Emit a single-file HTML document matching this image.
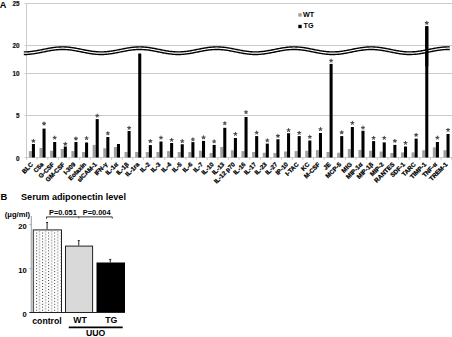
<!DOCTYPE html>
<html><head><meta charset="utf-8"><style>html,body{margin:0;padding:0;background:#fff;width:452px;height:337px;overflow:hidden}svg{display:block}</style></head>
<body><svg width="452" height="337" viewBox="0 0 452 337">
<rect width="452" height="337" fill="#fff"/>
<line x1="24.5" y1="3.5" x2="452" y2="3.5" stroke="#cbcbcb" stroke-width="1"/>
<line x1="24.5" y1="45.5" x2="452" y2="45.5" stroke="#cbcbcb" stroke-width="1"/>
<line x1="24.5" y1="73.5" x2="452" y2="73.5" stroke="#cbcbcb" stroke-width="1"/>
<line x1="24.5" y1="115.5" x2="452" y2="115.5" stroke="#cbcbcb" stroke-width="1"/>
<line x1="26.5" y1="3" x2="26.5" y2="158" stroke="#cbcbcb" stroke-width="1"/>
<line x1="24.5" y1="157.5" x2="452" y2="157.5" stroke="#cbcbcb" stroke-width="1"/>
<line x1="26.50" y1="157.5" x2="26.50" y2="160" stroke="#cbcbcb" stroke-width="1"/>
<line x1="37.13" y1="157.5" x2="37.13" y2="160" stroke="#cbcbcb" stroke-width="1"/>
<line x1="47.76" y1="157.5" x2="47.76" y2="160" stroke="#cbcbcb" stroke-width="1"/>
<line x1="58.39" y1="157.5" x2="58.39" y2="160" stroke="#cbcbcb" stroke-width="1"/>
<line x1="69.02" y1="157.5" x2="69.02" y2="160" stroke="#cbcbcb" stroke-width="1"/>
<line x1="79.66" y1="157.5" x2="79.66" y2="160" stroke="#cbcbcb" stroke-width="1"/>
<line x1="90.29" y1="157.5" x2="90.29" y2="160" stroke="#cbcbcb" stroke-width="1"/>
<line x1="100.92" y1="157.5" x2="100.92" y2="160" stroke="#cbcbcb" stroke-width="1"/>
<line x1="111.55" y1="157.5" x2="111.55" y2="160" stroke="#cbcbcb" stroke-width="1"/>
<line x1="122.18" y1="157.5" x2="122.18" y2="160" stroke="#cbcbcb" stroke-width="1"/>
<line x1="132.81" y1="157.5" x2="132.81" y2="160" stroke="#cbcbcb" stroke-width="1"/>
<line x1="143.44" y1="157.5" x2="143.44" y2="160" stroke="#cbcbcb" stroke-width="1"/>
<line x1="154.07" y1="157.5" x2="154.07" y2="160" stroke="#cbcbcb" stroke-width="1"/>
<line x1="164.70" y1="157.5" x2="164.70" y2="160" stroke="#cbcbcb" stroke-width="1"/>
<line x1="175.33" y1="157.5" x2="175.33" y2="160" stroke="#cbcbcb" stroke-width="1"/>
<line x1="185.97" y1="157.5" x2="185.97" y2="160" stroke="#cbcbcb" stroke-width="1"/>
<line x1="196.60" y1="157.5" x2="196.60" y2="160" stroke="#cbcbcb" stroke-width="1"/>
<line x1="207.23" y1="157.5" x2="207.23" y2="160" stroke="#cbcbcb" stroke-width="1"/>
<line x1="217.86" y1="157.5" x2="217.86" y2="160" stroke="#cbcbcb" stroke-width="1"/>
<line x1="228.49" y1="157.5" x2="228.49" y2="160" stroke="#cbcbcb" stroke-width="1"/>
<line x1="239.12" y1="157.5" x2="239.12" y2="160" stroke="#cbcbcb" stroke-width="1"/>
<line x1="249.75" y1="157.5" x2="249.75" y2="160" stroke="#cbcbcb" stroke-width="1"/>
<line x1="260.38" y1="157.5" x2="260.38" y2="160" stroke="#cbcbcb" stroke-width="1"/>
<line x1="271.01" y1="157.5" x2="271.01" y2="160" stroke="#cbcbcb" stroke-width="1"/>
<line x1="281.64" y1="157.5" x2="281.64" y2="160" stroke="#cbcbcb" stroke-width="1"/>
<line x1="292.27" y1="157.5" x2="292.27" y2="160" stroke="#cbcbcb" stroke-width="1"/>
<line x1="302.91" y1="157.5" x2="302.91" y2="160" stroke="#cbcbcb" stroke-width="1"/>
<line x1="313.54" y1="157.5" x2="313.54" y2="160" stroke="#cbcbcb" stroke-width="1"/>
<line x1="324.17" y1="157.5" x2="324.17" y2="160" stroke="#cbcbcb" stroke-width="1"/>
<line x1="334.80" y1="157.5" x2="334.80" y2="160" stroke="#cbcbcb" stroke-width="1"/>
<line x1="345.43" y1="157.5" x2="345.43" y2="160" stroke="#cbcbcb" stroke-width="1"/>
<line x1="356.06" y1="157.5" x2="356.06" y2="160" stroke="#cbcbcb" stroke-width="1"/>
<line x1="366.69" y1="157.5" x2="366.69" y2="160" stroke="#cbcbcb" stroke-width="1"/>
<line x1="377.32" y1="157.5" x2="377.32" y2="160" stroke="#cbcbcb" stroke-width="1"/>
<line x1="387.95" y1="157.5" x2="387.95" y2="160" stroke="#cbcbcb" stroke-width="1"/>
<line x1="398.59" y1="157.5" x2="398.59" y2="160" stroke="#cbcbcb" stroke-width="1"/>
<line x1="409.22" y1="157.5" x2="409.22" y2="160" stroke="#cbcbcb" stroke-width="1"/>
<line x1="419.85" y1="157.5" x2="419.85" y2="160" stroke="#cbcbcb" stroke-width="1"/>
<line x1="430.48" y1="157.5" x2="430.48" y2="160" stroke="#cbcbcb" stroke-width="1"/>
<line x1="441.11" y1="157.5" x2="441.11" y2="160" stroke="#cbcbcb" stroke-width="1"/>
<line x1="451.74" y1="157.5" x2="451.74" y2="160" stroke="#cbcbcb" stroke-width="1"/>
<text x="19.6" y="6.45" font-family="Liberation Sans, sans-serif" font-weight="bold" font-size="6.3" text-anchor="end" fill="#111" stroke="#111" stroke-width="0.2">25</text>
<text x="19.6" y="48.45" font-family="Liberation Sans, sans-serif" font-weight="bold" font-size="6.3" text-anchor="end" fill="#111" stroke="#111" stroke-width="0.2">20</text>
<text x="19.6" y="76.20" font-family="Liberation Sans, sans-serif" font-weight="bold" font-size="6.3" text-anchor="end" fill="#111" stroke="#111" stroke-width="0.2">10</text>
<text x="19.6" y="118.40" font-family="Liberation Sans, sans-serif" font-weight="bold" font-size="6.3" text-anchor="end" fill="#111" stroke="#111" stroke-width="0.2">5</text>
<text x="19.6" y="160.50" font-family="Liberation Sans, sans-serif" font-weight="bold" font-size="6.3" text-anchor="end" fill="#111" stroke="#111" stroke-width="0.2">0</text>
<text x="-0.3" y="7.6" font-family="Liberation Sans, sans-serif" font-weight="bold" font-size="9.2" fill="#000">A</text>
<rect x="28.85" y="151.1" width="3.05" height="6.40" fill="#a0a0a0"/>
<rect x="31.90" y="144" width="3.05" height="13.50" fill="#000"/>
<path d="M33.42,140.90L33.42,139.30M33.42,140.90L34.94,140.41M33.42,140.90L34.36,142.19M33.42,140.90L32.48,142.19M33.42,140.90L31.90,140.41" stroke="#4a4a4a" stroke-width="1.1" fill="none" stroke-linecap="round"/>
<rect x="39.48" y="148" width="3.05" height="9.50" fill="#a0a0a0"/>
<rect x="42.53" y="128.6" width="3.05" height="28.90" fill="#000"/>
<path d="M44.05,123.60L44.05,122.00M44.05,123.60L45.57,123.11M44.05,123.60L44.99,124.89M44.05,123.60L43.11,124.89M44.05,123.60L42.53,123.11" stroke="#4a4a4a" stroke-width="1.1" fill="none" stroke-linecap="round"/>
<rect x="50.11" y="150.75" width="3.05" height="6.75" fill="#a0a0a0"/>
<rect x="53.16" y="142" width="3.05" height="15.50" fill="#000"/>
<path d="M54.68,137.75L54.68,136.15M54.68,137.75L56.20,137.26M54.68,137.75L55.62,139.04M54.68,137.75L53.74,139.04M54.68,137.75L53.16,137.26" stroke="#4a4a4a" stroke-width="1.1" fill="none" stroke-linecap="round"/>
<rect x="60.74" y="149" width="3.05" height="8.50" fill="#a0a0a0"/>
<rect x="63.79" y="146.5" width="3.05" height="11.00" fill="#000"/>
<path d="M65.31,143.90L65.31,142.30M65.31,143.90L66.83,143.41M65.31,143.90L66.25,145.19M65.31,143.90L64.37,145.19M65.31,143.90L63.79,143.41" stroke="#4a4a4a" stroke-width="1.1" fill="none" stroke-linecap="round"/>
<rect x="71.37" y="151.1" width="3.05" height="6.40" fill="#a0a0a0"/>
<rect x="74.42" y="142" width="3.05" height="15.50" fill="#000"/>
<path d="M75.94,138.60L75.94,137.00M75.94,138.60L77.47,138.11M75.94,138.60L76.88,139.89M75.94,138.60L75.00,139.89M75.94,138.60L74.42,138.11" stroke="#4a4a4a" stroke-width="1.1" fill="none" stroke-linecap="round"/>
<rect x="82.00" y="152" width="3.05" height="5.50" fill="#a0a0a0"/>
<rect x="85.05" y="142.5" width="3.05" height="15.00" fill="#000"/>
<path d="M86.57,138.25L86.57,136.65M86.57,138.25L88.10,137.76M86.57,138.25L87.52,139.54M86.57,138.25L85.63,139.54M86.57,138.25L85.05,137.76" stroke="#4a4a4a" stroke-width="1.1" fill="none" stroke-linecap="round"/>
<rect x="92.64" y="144.9" width="3.05" height="12.60" fill="#a0a0a0"/>
<rect x="95.69" y="119.1" width="3.05" height="38.40" fill="#000"/>
<path d="M97.21,115.75L97.21,114.15M97.21,115.75L98.73,115.26M97.21,115.75L98.15,117.04M97.21,115.75L96.27,117.04M97.21,115.75L95.68,115.26" stroke="#4a4a4a" stroke-width="1.1" fill="none" stroke-linecap="round"/>
<rect x="103.27" y="148.25" width="3.05" height="9.25" fill="#a0a0a0"/>
<rect x="106.32" y="137" width="3.05" height="20.50" fill="#000"/>
<path d="M107.84,133.30L107.84,131.70M107.84,133.30L109.36,132.81M107.84,133.30L108.78,134.59M107.84,133.30L106.90,134.59M107.84,133.30L106.32,132.81" stroke="#4a4a4a" stroke-width="1.1" fill="none" stroke-linecap="round"/>
<rect x="113.90" y="147" width="3.05" height="10.50" fill="#a0a0a0"/>
<rect x="116.95" y="144" width="3.05" height="13.50" fill="#000"/>
<rect x="124.53" y="152" width="3.05" height="5.50" fill="#a0a0a0"/>
<rect x="127.58" y="131" width="3.05" height="26.50" fill="#000"/>
<path d="M129.10,128.00L129.10,126.40M129.10,128.00L130.62,127.51M129.10,128.00L130.04,129.29M129.10,128.00L128.16,129.29M129.10,128.00L127.58,127.51" stroke="#4a4a4a" stroke-width="1.1" fill="none" stroke-linecap="round"/>
<rect x="135.16" y="152" width="3.05" height="5.50" fill="#a0a0a0"/>
<rect x="138.21" y="53.5" width="3.05" height="104.00" fill="#000"/>
<rect x="145.79" y="152" width="3.05" height="5.50" fill="#a0a0a0"/>
<rect x="148.84" y="145.1" width="3.05" height="12.40" fill="#000"/>
<path d="M150.36,141.10L150.36,139.50M150.36,141.10L151.88,140.61M150.36,141.10L151.30,142.39M150.36,141.10L149.42,142.39M150.36,141.10L148.84,140.61" stroke="#4a4a4a" stroke-width="1.1" fill="none" stroke-linecap="round"/>
<rect x="156.42" y="152" width="3.05" height="5.50" fill="#a0a0a0"/>
<rect x="159.47" y="141.5" width="3.05" height="16.00" fill="#000"/>
<path d="M160.99,137.75L160.99,136.15M160.99,137.75L162.51,137.26M160.99,137.75L161.93,139.04M160.99,137.75L160.05,139.04M160.99,137.75L159.47,137.26" stroke="#4a4a4a" stroke-width="1.1" fill="none" stroke-linecap="round"/>
<rect x="167.05" y="151.1" width="3.05" height="6.40" fill="#a0a0a0"/>
<rect x="170.10" y="143" width="3.05" height="14.50" fill="#000"/>
<path d="M171.62,140.00L171.62,138.40M171.62,140.00L173.14,139.51M171.62,140.00L172.56,141.29M171.62,140.00L170.68,141.29M171.62,140.00L170.10,139.51" stroke="#4a4a4a" stroke-width="1.1" fill="none" stroke-linecap="round"/>
<rect x="177.68" y="152" width="3.05" height="5.50" fill="#a0a0a0"/>
<rect x="180.73" y="144.25" width="3.05" height="13.25" fill="#000"/>
<path d="M182.25,141.25L182.25,139.65M182.25,141.25L183.78,140.76M182.25,141.25L183.19,142.54M182.25,141.25L181.31,142.54M182.25,141.25L180.73,140.76" stroke="#4a4a4a" stroke-width="1.1" fill="none" stroke-linecap="round"/>
<rect x="188.31" y="152" width="3.05" height="5.50" fill="#a0a0a0"/>
<rect x="191.37" y="142.1" width="3.05" height="15.40" fill="#000"/>
<path d="M192.88,139.50L192.88,137.90M192.88,139.50L194.41,139.01M192.88,139.50L193.83,140.79M192.88,139.50L191.94,140.79M192.88,139.50L191.36,139.01" stroke="#4a4a4a" stroke-width="1.1" fill="none" stroke-linecap="round"/>
<rect x="198.95" y="150.75" width="3.05" height="6.75" fill="#a0a0a0"/>
<rect x="202.00" y="140.9" width="3.05" height="16.60" fill="#000"/>
<path d="M203.52,137.40L203.52,135.80M203.52,137.40L205.04,136.91M203.52,137.40L204.46,138.69M203.52,137.40L202.58,138.69M203.52,137.40L201.99,136.91" stroke="#4a4a4a" stroke-width="1.1" fill="none" stroke-linecap="round"/>
<rect x="209.58" y="153" width="3.05" height="4.50" fill="#a0a0a0"/>
<rect x="212.63" y="144.9" width="3.05" height="12.60" fill="#000"/>
<path d="M214.15,141.50L214.15,139.90M214.15,141.50L215.67,141.01M214.15,141.50L215.09,142.79M214.15,141.50L213.21,142.79M214.15,141.50L212.63,141.01" stroke="#4a4a4a" stroke-width="1.1" fill="none" stroke-linecap="round"/>
<rect x="220.21" y="147" width="3.05" height="10.50" fill="#a0a0a0"/>
<rect x="223.26" y="127.8" width="3.05" height="29.70" fill="#000"/>
<path d="M224.78,123.30L224.78,121.70M224.78,123.30L226.30,122.81M224.78,123.30L225.72,124.59M224.78,123.30L223.84,124.59M224.78,123.30L223.26,122.81" stroke="#4a4a4a" stroke-width="1.1" fill="none" stroke-linecap="round"/>
<rect x="230.84" y="150.25" width="3.05" height="7.25" fill="#a0a0a0"/>
<rect x="233.89" y="138" width="3.05" height="19.50" fill="#000"/>
<path d="M235.41,134.00L235.41,132.40M235.41,134.00L236.93,133.51M235.41,134.00L236.35,135.29M235.41,134.00L234.47,135.29M235.41,134.00L233.89,133.51" stroke="#4a4a4a" stroke-width="1.1" fill="none" stroke-linecap="round"/>
<rect x="241.47" y="151.1" width="3.05" height="6.40" fill="#a0a0a0"/>
<rect x="244.52" y="117" width="3.05" height="40.50" fill="#000"/>
<path d="M246.04,112.25L246.04,110.65M246.04,112.25L247.56,111.76M246.04,112.25L246.98,113.54M246.04,112.25L245.10,113.54M246.04,112.25L244.52,111.76" stroke="#4a4a4a" stroke-width="1.1" fill="none" stroke-linecap="round"/>
<rect x="252.10" y="152" width="3.05" height="5.50" fill="#a0a0a0"/>
<rect x="255.15" y="136.1" width="3.05" height="21.40" fill="#000"/>
<path d="M256.67,132.75L256.67,131.15M256.67,132.75L258.19,132.26M256.67,132.75L257.61,134.04M256.67,132.75L255.73,134.04M256.67,132.75L255.15,132.26" stroke="#4a4a4a" stroke-width="1.1" fill="none" stroke-linecap="round"/>
<rect x="262.73" y="152.75" width="3.05" height="4.75" fill="#a0a0a0"/>
<rect x="265.78" y="143.6" width="3.05" height="13.90" fill="#000"/>
<path d="M267.30,140.50L267.30,138.90M267.30,140.50L268.82,140.01M267.30,140.50L268.24,141.79M267.30,140.50L266.36,141.79M267.30,140.50L265.78,140.01" stroke="#4a4a4a" stroke-width="1.1" fill="none" stroke-linecap="round"/>
<rect x="273.36" y="153" width="3.05" height="4.50" fill="#a0a0a0"/>
<rect x="276.41" y="139.25" width="3.05" height="18.25" fill="#000"/>
<path d="M277.93,135.90L277.93,134.30M277.93,135.90L279.45,135.41M277.93,135.90L278.87,137.19M277.93,135.90L276.99,137.19M277.93,135.90L276.41,135.41" stroke="#4a4a4a" stroke-width="1.1" fill="none" stroke-linecap="round"/>
<rect x="283.99" y="151.5" width="3.05" height="6.00" fill="#a0a0a0"/>
<rect x="287.04" y="133.25" width="3.05" height="24.25" fill="#000"/>
<path d="M288.56,130.25L288.56,128.65M288.56,130.25L290.09,129.76M288.56,130.25L289.50,131.54M288.56,130.25L287.62,131.54M288.56,130.25L287.04,129.76" stroke="#4a4a4a" stroke-width="1.1" fill="none" stroke-linecap="round"/>
<rect x="294.62" y="151.1" width="3.05" height="6.40" fill="#a0a0a0"/>
<rect x="297.68" y="136.1" width="3.05" height="21.40" fill="#000"/>
<path d="M299.19,133.00L299.19,131.40M299.19,133.00L300.72,132.51M299.19,133.00L300.14,134.29M299.19,133.00L298.25,134.29M299.19,133.00L297.67,132.51" stroke="#4a4a4a" stroke-width="1.1" fill="none" stroke-linecap="round"/>
<rect x="305.26" y="150.75" width="3.05" height="6.75" fill="#a0a0a0"/>
<rect x="308.31" y="140.5" width="3.05" height="17.00" fill="#000"/>
<path d="M309.83,137.00L309.83,135.40M309.83,137.00L311.35,136.51M309.83,137.00L310.77,138.29M309.83,137.00L308.89,138.29M309.83,137.00L308.30,136.51" stroke="#4a4a4a" stroke-width="1.1" fill="none" stroke-linecap="round"/>
<rect x="315.89" y="150.1" width="3.05" height="7.40" fill="#a0a0a0"/>
<rect x="318.94" y="133" width="3.05" height="24.50" fill="#000"/>
<path d="M320.46,129.25L320.46,127.65M320.46,129.25L321.98,128.76M320.46,129.25L321.40,130.54M320.46,129.25L319.52,130.54M320.46,129.25L318.94,128.76" stroke="#4a4a4a" stroke-width="1.1" fill="none" stroke-linecap="round"/>
<rect x="326.52" y="152" width="3.05" height="5.50" fill="#a0a0a0"/>
<rect x="329.57" y="63.9" width="3.05" height="93.60" fill="#000"/>
<path d="M331.09,60.75L331.09,59.15M331.09,60.75L332.61,60.26M331.09,60.75L332.03,62.04M331.09,60.75L330.15,62.04M331.09,60.75L329.57,60.26" stroke="#4a4a4a" stroke-width="1.1" fill="none" stroke-linecap="round"/>
<rect x="337.15" y="152.75" width="3.05" height="4.75" fill="#a0a0a0"/>
<rect x="340.20" y="136.1" width="3.05" height="21.40" fill="#000"/>
<path d="M341.72,132.40L341.72,130.80M341.72,132.40L343.24,131.91M341.72,132.40L342.66,133.69M341.72,132.40L340.78,133.69M341.72,132.40L340.20,131.91" stroke="#4a4a4a" stroke-width="1.1" fill="none" stroke-linecap="round"/>
<rect x="347.78" y="149" width="3.05" height="8.50" fill="#a0a0a0"/>
<rect x="350.83" y="127" width="3.05" height="30.50" fill="#000"/>
<path d="M352.35,123.00L352.35,121.40M352.35,123.00L353.87,122.51M352.35,123.00L353.29,124.29M352.35,123.00L351.41,124.29M352.35,123.00L350.83,122.51" stroke="#4a4a4a" stroke-width="1.1" fill="none" stroke-linecap="round"/>
<rect x="358.41" y="149.9" width="3.05" height="7.60" fill="#a0a0a0"/>
<rect x="361.46" y="130.75" width="3.05" height="26.75" fill="#000"/>
<path d="M362.98,127.75L362.98,126.15M362.98,127.75L364.50,127.26M362.98,127.75L363.92,129.04M362.98,127.75L362.04,129.04M362.98,127.75L361.46,127.26" stroke="#4a4a4a" stroke-width="1.1" fill="none" stroke-linecap="round"/>
<rect x="369.04" y="150.75" width="3.05" height="6.75" fill="#a0a0a0"/>
<rect x="372.09" y="141.1" width="3.05" height="16.40" fill="#000"/>
<path d="M373.61,138.00L373.61,136.40M373.61,138.00L375.13,137.51M373.61,138.00L374.55,139.29M373.61,138.00L372.67,139.29M373.61,138.00L372.09,137.51" stroke="#4a4a4a" stroke-width="1.1" fill="none" stroke-linecap="round"/>
<rect x="379.67" y="151.5" width="3.05" height="6.00" fill="#a0a0a0"/>
<rect x="382.72" y="142.4" width="3.05" height="15.10" fill="#000"/>
<path d="M384.24,138.00L384.24,136.40M384.24,138.00L385.76,137.51M384.24,138.00L385.18,139.29M384.24,138.00L383.30,139.29M384.24,138.00L382.72,137.51" stroke="#4a4a4a" stroke-width="1.1" fill="none" stroke-linecap="round"/>
<rect x="390.30" y="153" width="3.05" height="4.50" fill="#a0a0a0"/>
<rect x="393.35" y="144.9" width="3.05" height="12.60" fill="#000"/>
<path d="M394.87,140.90L394.87,139.30M394.87,140.90L396.40,140.41M394.87,140.90L395.81,142.19M394.87,140.90L393.93,142.19M394.87,140.90L393.35,140.41" stroke="#4a4a4a" stroke-width="1.1" fill="none" stroke-linecap="round"/>
<rect x="400.94" y="152.4" width="3.05" height="5.10" fill="#a0a0a0"/>
<rect x="403.99" y="146.5" width="3.05" height="11.00" fill="#000"/>
<path d="M405.51,143.00L405.51,141.40M405.51,143.00L407.03,142.51M405.51,143.00L406.45,144.29M405.51,143.00L404.56,144.29M405.51,143.00L403.98,142.51" stroke="#4a4a4a" stroke-width="1.1" fill="none" stroke-linecap="round"/>
<rect x="411.57" y="152.4" width="3.05" height="5.10" fill="#a0a0a0"/>
<rect x="414.62" y="138.6" width="3.05" height="18.90" fill="#000"/>
<path d="M416.14,134.90L416.14,133.30M416.14,134.90L417.66,134.41M416.14,134.90L417.08,136.19M416.14,134.90L415.20,136.19M416.14,134.90L414.61,134.41" stroke="#4a4a4a" stroke-width="1.1" fill="none" stroke-linecap="round"/>
<rect x="422.20" y="150.25" width="3.05" height="7.25" fill="#a0a0a0"/>
<rect x="425.25" y="26.25" width="3.05" height="131.25" fill="#000"/>
<path d="M426.77,22.90L426.77,21.30M426.77,22.90L428.29,22.41M426.77,22.90L427.71,24.19M426.77,22.90L425.83,24.19M426.77,22.90L425.25,22.41" stroke="#4a4a4a" stroke-width="1.1" fill="none" stroke-linecap="round"/>
<rect x="432.83" y="147.4" width="3.05" height="10.10" fill="#a0a0a0"/>
<rect x="435.88" y="142" width="3.05" height="15.50" fill="#000"/>
<path d="M437.40,137.75L437.40,136.15M437.40,137.75L438.92,137.26M437.40,137.75L438.34,139.04M437.40,137.75L436.46,139.04M437.40,137.75L435.88,137.26" stroke="#4a4a4a" stroke-width="1.1" fill="none" stroke-linecap="round"/>
<rect x="443.46" y="150.25" width="3.05" height="7.25" fill="#a0a0a0"/>
<rect x="446.51" y="134" width="3.05" height="23.50" fill="#000"/>
<path d="M448.03,130.00L448.03,128.40M448.03,130.00L449.55,129.51M448.03,130.00L448.97,131.29M448.03,130.00L447.09,131.29M448.03,130.00L446.51,129.51" stroke="#4a4a4a" stroke-width="1.1" fill="none" stroke-linecap="round"/>
<polyline points="23.80,53.15 24.80,53.14 25.80,53.12 26.80,53.09 27.80,53.03 28.80,52.96 29.80,52.88 30.80,52.78 31.80,52.66 32.80,52.53 33.80,52.40 34.80,52.24 35.80,52.08 36.80,51.91 37.80,51.73 38.80,51.54 39.80,51.35 40.80,51.15 41.80,50.95 42.80,50.75 43.80,50.55 44.80,50.34 45.80,50.14 46.80,49.94 47.80,49.75 48.80,49.56 49.80,49.39 50.80,49.21 51.80,49.05 52.80,48.90 53.80,48.76 54.80,48.63 55.80,48.52 56.80,48.42 57.80,48.34 58.80,48.27 59.80,48.21 60.80,48.18 61.80,48.15 62.80,48.15 63.80,48.16 64.80,48.19 65.80,48.24 66.80,48.30 67.80,48.37 68.80,48.46 69.80,48.57 70.80,48.69 71.80,48.82 72.80,48.97 73.80,49.12 74.80,49.29 75.80,49.47 76.80,49.65 77.80,49.84 78.80,50.03 79.80,50.23 80.80,50.43 81.80,50.64 82.80,50.84 83.80,51.04 84.80,51.24 85.80,51.44 86.80,51.63 87.80,51.81 88.80,51.99 89.80,52.16 90.80,52.31 91.80,52.46 92.80,52.59 93.80,52.72 94.80,52.82 95.80,52.92 96.80,52.99 97.80,53.06 98.80,53.10 99.80,53.13 100.80,53.15 101.80,53.15 102.80,53.13 103.80,53.09 104.80,53.04 105.80,52.97 106.80,52.89 107.80,52.79 108.80,52.68 109.80,52.55 110.80,52.42 111.80,52.27 112.80,52.11 113.80,51.94 114.80,51.76 115.80,51.57 116.80,51.38 117.80,51.18 118.80,50.98 119.80,50.78 120.80,50.58 121.80,50.37 122.80,50.17 123.80,49.97 124.80,49.78 125.80,49.59 126.80,49.41 127.80,49.24 128.80,49.08 129.80,48.92 130.80,48.78 131.80,48.65 132.80,48.54 133.80,48.44 134.80,48.35 135.80,48.28 136.80,48.22 137.80,48.18 138.80,48.16 139.80,48.15 140.80,48.16 141.80,48.19 142.80,48.23 143.80,48.29 144.80,48.36 145.80,48.45 146.80,48.55 147.80,48.67 148.80,48.80 149.80,48.95 150.80,49.10 151.80,49.26 152.80,49.44 153.80,49.62 154.80,49.81 155.80,50.00 156.80,50.20 157.80,50.40 158.80,50.61 159.80,50.81 160.80,51.01 161.80,51.21 162.80,51.41 163.80,51.60 164.80,51.79 165.80,51.96 166.80,52.13 167.80,52.29 168.80,52.44 169.80,52.57 170.80,52.70 171.80,52.81 172.80,52.90 173.80,52.98 174.80,53.05 175.80,53.10 176.80,53.13 177.80,53.15 178.80,53.15 179.80,53.13 180.80,53.10 181.80,53.05 182.80,52.98 183.80,52.90 184.80,52.81 185.80,52.70 186.80,52.57 187.80,52.44 188.80,52.29 189.80,52.13 190.80,51.96 191.80,51.79 192.80,51.60 193.80,51.41 194.80,51.21 195.80,51.01 196.80,50.81 197.80,50.61 198.80,50.40 199.80,50.20 200.80,50.00 201.80,49.81 202.80,49.62 203.80,49.44 204.80,49.26 205.80,49.10 206.80,48.95 207.80,48.80 208.80,48.67 209.80,48.55 210.80,48.45 211.80,48.36 212.80,48.29 213.80,48.23 214.80,48.19 215.80,48.16 216.80,48.15 217.80,48.16 218.80,48.18 219.80,48.22 220.80,48.28 221.80,48.35 222.80,48.44 223.80,48.54 224.80,48.65 225.80,48.78 226.80,48.92 227.80,49.08 228.80,49.24 229.80,49.41 230.80,49.59 231.80,49.78 232.80,49.97 233.80,50.17 234.80,50.37 235.80,50.58 236.80,50.78 237.80,50.98 238.80,51.18 239.80,51.38 240.80,51.57 241.80,51.76 242.80,51.94 243.80,52.11 244.80,52.27 245.80,52.42 246.80,52.55 247.80,52.68 248.80,52.79 249.80,52.89 250.80,52.97 251.80,53.04 252.80,53.09 253.80,53.13 254.80,53.15 255.80,53.15 256.80,53.13 257.80,53.10 258.80,53.06 259.80,52.99 260.80,52.92 261.80,52.82 262.80,52.72 263.80,52.59 264.80,52.46 265.80,52.31 266.80,52.16 267.80,51.99 268.80,51.81 269.80,51.63 270.80,51.44 271.80,51.24 272.80,51.04 273.80,50.84 274.80,50.64 275.80,50.43 276.80,50.23 277.80,50.03 278.80,49.84 279.80,49.65 280.80,49.47 281.80,49.29 282.80,49.12 283.80,48.97 284.80,48.82 285.80,48.69 286.80,48.57 287.80,48.46 288.80,48.37 289.80,48.30 290.80,48.24 291.80,48.19 292.80,48.16 293.80,48.15 294.80,48.15 295.80,48.18 296.80,48.21 297.80,48.27 298.80,48.34 299.80,48.42 300.80,48.52 301.80,48.63 302.80,48.76 303.80,48.90 304.80,49.05 305.80,49.21 306.80,49.39 307.80,49.56 308.80,49.75 309.80,49.94 310.80,50.14 311.80,50.34 312.80,50.55 313.80,50.75 314.80,50.95 315.80,51.15 316.80,51.35 317.80,51.54 318.80,51.73 319.80,51.91 320.80,52.08 321.80,52.24 322.80,52.40 323.80,52.53 324.80,52.66 325.80,52.78 326.80,52.88 327.80,52.96 328.80,53.03 329.80,53.09 330.80,53.12 331.80,53.14 332.80,53.15 333.80,53.14 334.80,53.11 335.80,53.07 336.80,53.01 337.80,52.93 338.80,52.84 339.80,52.73 340.80,52.61 341.80,52.48 342.80,52.34 343.80,52.18 344.80,52.01 345.80,51.84 346.80,51.66 347.80,51.47 348.80,51.27 349.80,51.07 350.80,50.87 351.80,50.67 352.80,50.46 353.80,50.26 354.80,50.06 355.80,49.87 356.80,49.68 357.80,49.49 358.80,49.32 359.80,49.15 360.80,48.99 361.80,48.84 362.80,48.71 363.80,48.59 364.80,48.48 365.80,48.39 366.80,48.31 367.80,48.24 368.80,48.20 369.80,48.17 370.80,48.15 371.80,48.15 372.80,48.17 373.80,48.21 374.80,48.26 375.80,48.33 376.80,48.41 377.80,48.51 378.80,48.62 379.80,48.74 380.80,48.88 381.80,49.03 382.80,49.19 383.80,49.36 384.80,49.54 385.80,49.72 386.80,49.92 387.80,50.11 388.80,50.31 389.80,50.52 390.80,50.72 391.80,50.92 392.80,51.12 393.80,51.32 394.80,51.51 395.80,51.70 396.80,51.88 397.80,52.06 398.80,52.22 399.80,52.37 400.80,52.51 401.80,52.64 402.80,52.76 403.80,52.86 404.80,52.95 405.80,53.02 406.80,53.08 407.80,53.12 408.80,53.14 409.80,53.15 410.80,53.14 411.80,53.12 412.80,53.07 413.80,53.02 414.80,52.94 415.80,52.85 416.80,52.75 417.80,52.63 418.80,52.50 419.80,52.36 420.80,52.20 421.80,52.04 422.80,51.87 423.80,51.68 424.80,51.50 425.80,51.30 426.80,51.10 427.80,50.90 428.80,50.70 429.80,50.49 430.80,50.29 431.80,50.09 432.80,49.90 433.80,49.70 434.80,49.52 435.80,49.34 436.80,49.17 437.80,49.01 438.80,48.87 439.80,48.73 440.80,48.60 441.80,48.49 442.80,48.40 443.80,48.32 444.80,48.25 445.80,48.20 446.80,48.17 447.80,48.15 448.80,48.15 449.80,48.17" fill="none" stroke="#fff" stroke-width="2.4"/>
<polyline points="23.80,51.90 24.80,51.89 25.80,51.87 26.80,51.84 27.80,51.78 28.80,51.71 29.80,51.63 30.80,51.53 31.80,51.41 32.80,51.28 33.80,51.15 34.80,50.99 35.80,50.83 36.80,50.66 37.80,50.48 38.80,50.29 39.80,50.10 40.80,49.90 41.80,49.70 42.80,49.50 43.80,49.30 44.80,49.09 45.80,48.89 46.80,48.69 47.80,48.50 48.80,48.31 49.80,48.14 50.80,47.96 51.80,47.80 52.80,47.65 53.80,47.51 54.80,47.38 55.80,47.27 56.80,47.17 57.80,47.09 58.80,47.02 59.80,46.96 60.80,46.93 61.80,46.90 62.80,46.90 63.80,46.91 64.80,46.94 65.80,46.99 66.80,47.05 67.80,47.12 68.80,47.21 69.80,47.32 70.80,47.44 71.80,47.57 72.80,47.72 73.80,47.87 74.80,48.04 75.80,48.22 76.80,48.40 77.80,48.59 78.80,48.78 79.80,48.98 80.80,49.18 81.80,49.39 82.80,49.59 83.80,49.79 84.80,49.99 85.80,50.19 86.80,50.38 87.80,50.56 88.80,50.74 89.80,50.91 90.80,51.06 91.80,51.21 92.80,51.34 93.80,51.47 94.80,51.57 95.80,51.67 96.80,51.74 97.80,51.81 98.80,51.85 99.80,51.88 100.80,51.90 101.80,51.90 102.80,51.88 103.80,51.84 104.80,51.79 105.80,51.72 106.80,51.64 107.80,51.54 108.80,51.43 109.80,51.30 110.80,51.17 111.80,51.02 112.80,50.86 113.80,50.69 114.80,50.51 115.80,50.32 116.80,50.13 117.80,49.93 118.80,49.73 119.80,49.53 120.80,49.33 121.80,49.12 122.80,48.92 123.80,48.72 124.80,48.53 125.80,48.34 126.80,48.16 127.80,47.99 128.80,47.83 129.80,47.67 130.80,47.53 131.80,47.40 132.80,47.29 133.80,47.19 134.80,47.10 135.80,47.03 136.80,46.97 137.80,46.93 138.80,46.91 139.80,46.90 140.80,46.91 141.80,46.94 142.80,46.98 143.80,47.04 144.80,47.11 145.80,47.20 146.80,47.30 147.80,47.42 148.80,47.55 149.80,47.70 150.80,47.85 151.80,48.01 152.80,48.19 153.80,48.37 154.80,48.56 155.80,48.75 156.80,48.95 157.80,49.15 158.80,49.36 159.80,49.56 160.80,49.76 161.80,49.96 162.80,50.16 163.80,50.35 164.80,50.54 165.80,50.71 166.80,50.88 167.80,51.04 168.80,51.19 169.80,51.32 170.80,51.45 171.80,51.56 172.80,51.65 173.80,51.73 174.80,51.80 175.80,51.85 176.80,51.88 177.80,51.90 178.80,51.90 179.80,51.88 180.80,51.85 181.80,51.80 182.80,51.73 183.80,51.65 184.80,51.56 185.80,51.45 186.80,51.32 187.80,51.19 188.80,51.04 189.80,50.88 190.80,50.71 191.80,50.54 192.80,50.35 193.80,50.16 194.80,49.96 195.80,49.76 196.80,49.56 197.80,49.36 198.80,49.15 199.80,48.95 200.80,48.75 201.80,48.56 202.80,48.37 203.80,48.19 204.80,48.01 205.80,47.85 206.80,47.70 207.80,47.55 208.80,47.42 209.80,47.30 210.80,47.20 211.80,47.11 212.80,47.04 213.80,46.98 214.80,46.94 215.80,46.91 216.80,46.90 217.80,46.91 218.80,46.93 219.80,46.97 220.80,47.03 221.80,47.10 222.80,47.19 223.80,47.29 224.80,47.40 225.80,47.53 226.80,47.67 227.80,47.83 228.80,47.99 229.80,48.16 230.80,48.34 231.80,48.53 232.80,48.72 233.80,48.92 234.80,49.12 235.80,49.33 236.80,49.53 237.80,49.73 238.80,49.93 239.80,50.13 240.80,50.32 241.80,50.51 242.80,50.69 243.80,50.86 244.80,51.02 245.80,51.17 246.80,51.30 247.80,51.43 248.80,51.54 249.80,51.64 250.80,51.72 251.80,51.79 252.80,51.84 253.80,51.88 254.80,51.90 255.80,51.90 256.80,51.88 257.80,51.85 258.80,51.81 259.80,51.74 260.80,51.67 261.80,51.57 262.80,51.47 263.80,51.34 264.80,51.21 265.80,51.06 266.80,50.91 267.80,50.74 268.80,50.56 269.80,50.38 270.80,50.19 271.80,49.99 272.80,49.79 273.80,49.59 274.80,49.39 275.80,49.18 276.80,48.98 277.80,48.78 278.80,48.59 279.80,48.40 280.80,48.22 281.80,48.04 282.80,47.87 283.80,47.72 284.80,47.57 285.80,47.44 286.80,47.32 287.80,47.21 288.80,47.12 289.80,47.05 290.80,46.99 291.80,46.94 292.80,46.91 293.80,46.90 294.80,46.90 295.80,46.93 296.80,46.96 297.80,47.02 298.80,47.09 299.80,47.17 300.80,47.27 301.80,47.38 302.80,47.51 303.80,47.65 304.80,47.80 305.80,47.96 306.80,48.14 307.80,48.31 308.80,48.50 309.80,48.69 310.80,48.89 311.80,49.09 312.80,49.30 313.80,49.50 314.80,49.70 315.80,49.90 316.80,50.10 317.80,50.29 318.80,50.48 319.80,50.66 320.80,50.83 321.80,50.99 322.80,51.15 323.80,51.28 324.80,51.41 325.80,51.53 326.80,51.63 327.80,51.71 328.80,51.78 329.80,51.84 330.80,51.87 331.80,51.89 332.80,51.90 333.80,51.89 334.80,51.86 335.80,51.82 336.80,51.76 337.80,51.68 338.80,51.59 339.80,51.48 340.80,51.36 341.80,51.23 342.80,51.09 343.80,50.93 344.80,50.76 345.80,50.59 346.80,50.41 347.80,50.22 348.80,50.02 349.80,49.82 350.80,49.62 351.80,49.42 352.80,49.21 353.80,49.01 354.80,48.81 355.80,48.62 356.80,48.43 357.80,48.24 358.80,48.07 359.80,47.90 360.80,47.74 361.80,47.59 362.80,47.46 363.80,47.34 364.80,47.23 365.80,47.14 366.80,47.06 367.80,46.99 368.80,46.95 369.80,46.92 370.80,46.90 371.80,46.90 372.80,46.92 373.80,46.96 374.80,47.01 375.80,47.08 376.80,47.16 377.80,47.26 378.80,47.37 379.80,47.49 380.80,47.63 381.80,47.78 382.80,47.94 383.80,48.11 384.80,48.29 385.80,48.47 386.80,48.67 387.80,48.86 388.80,49.06 389.80,49.27 390.80,49.47 391.80,49.67 392.80,49.87 393.80,50.07 394.80,50.26 395.80,50.45 396.80,50.63 397.80,50.81 398.80,50.97 399.80,51.12 400.80,51.26 401.80,51.39 402.80,51.51 403.80,51.61 404.80,51.70 405.80,51.77 406.80,51.83 407.80,51.87 408.80,51.89 409.80,51.90 410.80,51.89 411.80,51.87 412.80,51.82 413.80,51.77 414.80,51.69 415.80,51.60 416.80,51.50 417.80,51.38 418.80,51.25 419.80,51.11 420.80,50.95 421.80,50.79 422.80,50.62 423.80,50.43 424.80,50.25 425.80,50.05 426.80,49.85 427.80,49.65 428.80,49.45 429.80,49.24 430.80,49.04 431.80,48.84 432.80,48.65 433.80,48.45 434.80,48.27 435.80,48.09 436.80,47.92 437.80,47.76 438.80,47.62 439.80,47.48 440.80,47.35 441.80,47.24 442.80,47.15 443.80,47.07 444.80,47.00 445.80,46.95 446.80,46.92 447.80,46.90 448.80,46.90 449.80,46.92" fill="none" stroke="#000" stroke-width="1.4"/>
<polyline points="23.80,54.50 24.80,54.49 25.80,54.47 26.80,54.44 27.80,54.38 28.80,54.31 29.80,54.23 30.80,54.13 31.80,54.01 32.80,53.88 33.80,53.75 34.80,53.59 35.80,53.43 36.80,53.26 37.80,53.08 38.80,52.89 39.80,52.70 40.80,52.50 41.80,52.30 42.80,52.10 43.80,51.90 44.80,51.69 45.80,51.49 46.80,51.29 47.80,51.10 48.80,50.91 49.80,50.74 50.80,50.56 51.80,50.40 52.80,50.25 53.80,50.11 54.80,49.98 55.80,49.87 56.80,49.77 57.80,49.69 58.80,49.62 59.80,49.56 60.80,49.53 61.80,49.50 62.80,49.50 63.80,49.51 64.80,49.54 65.80,49.59 66.80,49.65 67.80,49.72 68.80,49.81 69.80,49.92 70.80,50.04 71.80,50.17 72.80,50.32 73.80,50.47 74.80,50.64 75.80,50.82 76.80,51.00 77.80,51.19 78.80,51.38 79.80,51.58 80.80,51.78 81.80,51.99 82.80,52.19 83.80,52.39 84.80,52.59 85.80,52.79 86.80,52.98 87.80,53.16 88.80,53.34 89.80,53.51 90.80,53.66 91.80,53.81 92.80,53.94 93.80,54.07 94.80,54.17 95.80,54.27 96.80,54.34 97.80,54.41 98.80,54.45 99.80,54.48 100.80,54.50 101.80,54.50 102.80,54.48 103.80,54.44 104.80,54.39 105.80,54.32 106.80,54.24 107.80,54.14 108.80,54.03 109.80,53.90 110.80,53.77 111.80,53.62 112.80,53.46 113.80,53.29 114.80,53.11 115.80,52.92 116.80,52.73 117.80,52.53 118.80,52.33 119.80,52.13 120.80,51.93 121.80,51.72 122.80,51.52 123.80,51.32 124.80,51.13 125.80,50.94 126.80,50.76 127.80,50.59 128.80,50.43 129.80,50.27 130.80,50.13 131.80,50.00 132.80,49.89 133.80,49.79 134.80,49.70 135.80,49.63 136.80,49.57 137.80,49.53 138.80,49.51 139.80,49.50 140.80,49.51 141.80,49.54 142.80,49.58 143.80,49.64 144.80,49.71 145.80,49.80 146.80,49.90 147.80,50.02 148.80,50.15 149.80,50.30 150.80,50.45 151.80,50.61 152.80,50.79 153.80,50.97 154.80,51.16 155.80,51.35 156.80,51.55 157.80,51.75 158.80,51.96 159.80,52.16 160.80,52.36 161.80,52.56 162.80,52.76 163.80,52.95 164.80,53.14 165.80,53.31 166.80,53.48 167.80,53.64 168.80,53.79 169.80,53.92 170.80,54.05 171.80,54.16 172.80,54.25 173.80,54.33 174.80,54.40 175.80,54.45 176.80,54.48 177.80,54.50 178.80,54.50 179.80,54.48 180.80,54.45 181.80,54.40 182.80,54.33 183.80,54.25 184.80,54.16 185.80,54.05 186.80,53.92 187.80,53.79 188.80,53.64 189.80,53.48 190.80,53.31 191.80,53.14 192.80,52.95 193.80,52.76 194.80,52.56 195.80,52.36 196.80,52.16 197.80,51.96 198.80,51.75 199.80,51.55 200.80,51.35 201.80,51.16 202.80,50.97 203.80,50.79 204.80,50.61 205.80,50.45 206.80,50.30 207.80,50.15 208.80,50.02 209.80,49.90 210.80,49.80 211.80,49.71 212.80,49.64 213.80,49.58 214.80,49.54 215.80,49.51 216.80,49.50 217.80,49.51 218.80,49.53 219.80,49.57 220.80,49.63 221.80,49.70 222.80,49.79 223.80,49.89 224.80,50.00 225.80,50.13 226.80,50.27 227.80,50.43 228.80,50.59 229.80,50.76 230.80,50.94 231.80,51.13 232.80,51.32 233.80,51.52 234.80,51.72 235.80,51.93 236.80,52.13 237.80,52.33 238.80,52.53 239.80,52.73 240.80,52.92 241.80,53.11 242.80,53.29 243.80,53.46 244.80,53.62 245.80,53.77 246.80,53.90 247.80,54.03 248.80,54.14 249.80,54.24 250.80,54.32 251.80,54.39 252.80,54.44 253.80,54.48 254.80,54.50 255.80,54.50 256.80,54.48 257.80,54.45 258.80,54.41 259.80,54.34 260.80,54.27 261.80,54.17 262.80,54.07 263.80,53.94 264.80,53.81 265.80,53.66 266.80,53.51 267.80,53.34 268.80,53.16 269.80,52.98 270.80,52.79 271.80,52.59 272.80,52.39 273.80,52.19 274.80,51.99 275.80,51.78 276.80,51.58 277.80,51.38 278.80,51.19 279.80,51.00 280.80,50.82 281.80,50.64 282.80,50.47 283.80,50.32 284.80,50.17 285.80,50.04 286.80,49.92 287.80,49.81 288.80,49.72 289.80,49.65 290.80,49.59 291.80,49.54 292.80,49.51 293.80,49.50 294.80,49.50 295.80,49.53 296.80,49.56 297.80,49.62 298.80,49.69 299.80,49.77 300.80,49.87 301.80,49.98 302.80,50.11 303.80,50.25 304.80,50.40 305.80,50.56 306.80,50.74 307.80,50.91 308.80,51.10 309.80,51.29 310.80,51.49 311.80,51.69 312.80,51.90 313.80,52.10 314.80,52.30 315.80,52.50 316.80,52.70 317.80,52.89 318.80,53.08 319.80,53.26 320.80,53.43 321.80,53.59 322.80,53.75 323.80,53.88 324.80,54.01 325.80,54.13 326.80,54.23 327.80,54.31 328.80,54.38 329.80,54.44 330.80,54.47 331.80,54.49 332.80,54.50 333.80,54.49 334.80,54.46 335.80,54.42 336.80,54.36 337.80,54.28 338.80,54.19 339.80,54.08 340.80,53.96 341.80,53.83 342.80,53.69 343.80,53.53 344.80,53.36 345.80,53.19 346.80,53.01 347.80,52.82 348.80,52.62 349.80,52.42 350.80,52.22 351.80,52.02 352.80,51.81 353.80,51.61 354.80,51.41 355.80,51.22 356.80,51.03 357.80,50.84 358.80,50.67 359.80,50.50 360.80,50.34 361.80,50.19 362.80,50.06 363.80,49.94 364.80,49.83 365.80,49.74 366.80,49.66 367.80,49.59 368.80,49.55 369.80,49.52 370.80,49.50 371.80,49.50 372.80,49.52 373.80,49.56 374.80,49.61 375.80,49.68 376.80,49.76 377.80,49.86 378.80,49.97 379.80,50.09 380.80,50.23 381.80,50.38 382.80,50.54 383.80,50.71 384.80,50.89 385.80,51.07 386.80,51.27 387.80,51.46 388.80,51.66 389.80,51.87 390.80,52.07 391.80,52.27 392.80,52.47 393.80,52.67 394.80,52.86 395.80,53.05 396.80,53.23 397.80,53.41 398.80,53.57 399.80,53.72 400.80,53.86 401.80,53.99 402.80,54.11 403.80,54.21 404.80,54.30 405.80,54.37 406.80,54.43 407.80,54.47 408.80,54.49 409.80,54.50 410.80,54.49 411.80,54.47 412.80,54.42 413.80,54.37 414.80,54.29 415.80,54.20 416.80,54.10 417.80,53.98 418.80,53.85 419.80,53.71 420.80,53.55 421.80,53.39 422.80,53.22 423.80,53.03 424.80,52.85 425.80,52.65 426.80,52.45 427.80,52.25 428.80,52.05 429.80,51.84 430.80,51.64 431.80,51.44 432.80,51.25 433.80,51.05 434.80,50.87 435.80,50.69 436.80,50.52 437.80,50.36 438.80,50.22 439.80,50.08 440.80,49.95 441.80,49.84 442.80,49.75 443.80,49.67 444.80,49.60 445.80,49.55 446.80,49.52 447.80,49.50 448.80,49.50 449.80,49.52" fill="none" stroke="#000" stroke-width="1.4"/>
<rect x="425.25" y="26.25" width="3.05" height="40" fill="#000"/>
<rect x="298.3" y="13.2" width="3.4" height="3.4" fill="#a0a0a0"/>
<text x="303" y="17" font-family="Liberation Sans, sans-serif" font-weight="bold" font-size="7.2" fill="#000">WT</text>
<rect x="298.3" y="24.8" width="3.4" height="3.4" fill="#000"/>
<text x="303.5" y="28.3" font-family="Liberation Sans, sans-serif" font-weight="bold" font-size="7.2" fill="#000">TG</text>
<text transform="translate(33.40,164.90) rotate(-45)" x="0" y="0" font-family="Liberation Sans, sans-serif" font-weight="bold" font-size="6.2" text-anchor="end" fill="#000" stroke="#000" stroke-width="0.25">BLC</text>
<text transform="translate(44.03,164.90) rotate(-45)" x="0" y="0" font-family="Liberation Sans, sans-serif" font-weight="bold" font-size="6.2" text-anchor="end" fill="#000" stroke="#000" stroke-width="0.25">C5a</text>
<text transform="translate(54.66,164.90) rotate(-45)" x="0" y="0" font-family="Liberation Sans, sans-serif" font-weight="bold" font-size="6.2" text-anchor="end" fill="#000" stroke="#000" stroke-width="0.25">G-CSF</text>
<text transform="translate(65.29,164.90) rotate(-45)" x="0" y="0" font-family="Liberation Sans, sans-serif" font-weight="bold" font-size="6.2" text-anchor="end" fill="#000" stroke="#000" stroke-width="0.25">GM-CSF</text>
<text transform="translate(75.92,164.90) rotate(-45)" x="0" y="0" font-family="Liberation Sans, sans-serif" font-weight="bold" font-size="6.2" text-anchor="end" fill="#000" stroke="#000" stroke-width="0.25">I-309</text>
<text transform="translate(86.55,164.90) rotate(-45)" x="0" y="0" font-family="Liberation Sans, sans-serif" font-weight="bold" font-size="6.2" text-anchor="end" fill="#000" stroke="#000" stroke-width="0.25">Eotaxin</text>
<text transform="translate(97.19,164.90) rotate(-45)" x="0" y="0" font-family="Liberation Sans, sans-serif" font-weight="bold" font-size="6.2" text-anchor="end" fill="#000" stroke="#000" stroke-width="0.25">sICAM-1</text>
<text transform="translate(107.82,164.90) rotate(-45)" x="0" y="0" font-family="Liberation Sans, sans-serif" font-weight="bold" font-size="6.2" text-anchor="end" fill="#000" stroke="#000" stroke-width="0.25">IFN-γ</text>
<text transform="translate(118.45,164.90) rotate(-45)" x="0" y="0" font-family="Liberation Sans, sans-serif" font-weight="bold" font-size="6.2" text-anchor="end" fill="#000" stroke="#000" stroke-width="0.25">IL-1α</text>
<text transform="translate(129.08,164.90) rotate(-45)" x="0" y="0" font-family="Liberation Sans, sans-serif" font-weight="bold" font-size="6.2" text-anchor="end" fill="#000" stroke="#000" stroke-width="0.25">IL-1β</text>
<text transform="translate(139.71,164.90) rotate(-45)" x="0" y="0" font-family="Liberation Sans, sans-serif" font-weight="bold" font-size="6.2" text-anchor="end" fill="#000" stroke="#000" stroke-width="0.25">IL-1ra</text>
<text transform="translate(150.34,164.90) rotate(-45)" x="0" y="0" font-family="Liberation Sans, sans-serif" font-weight="bold" font-size="6.2" text-anchor="end" fill="#000" stroke="#000" stroke-width="0.25">IL-2</text>
<text transform="translate(160.97,164.90) rotate(-45)" x="0" y="0" font-family="Liberation Sans, sans-serif" font-weight="bold" font-size="6.2" text-anchor="end" fill="#000" stroke="#000" stroke-width="0.25">IL-3</text>
<text transform="translate(171.60,164.90) rotate(-45)" x="0" y="0" font-family="Liberation Sans, sans-serif" font-weight="bold" font-size="6.2" text-anchor="end" fill="#000" stroke="#000" stroke-width="0.25">IL-4</text>
<text transform="translate(182.23,164.90) rotate(-45)" x="0" y="0" font-family="Liberation Sans, sans-serif" font-weight="bold" font-size="6.2" text-anchor="end" fill="#000" stroke="#000" stroke-width="0.25">IL-5</text>
<text transform="translate(192.87,164.90) rotate(-45)" x="0" y="0" font-family="Liberation Sans, sans-serif" font-weight="bold" font-size="6.2" text-anchor="end" fill="#000" stroke="#000" stroke-width="0.25">IL-6</text>
<text transform="translate(203.50,164.90) rotate(-45)" x="0" y="0" font-family="Liberation Sans, sans-serif" font-weight="bold" font-size="6.2" text-anchor="end" fill="#000" stroke="#000" stroke-width="0.25">IL-7</text>
<text transform="translate(214.13,164.90) rotate(-45)" x="0" y="0" font-family="Liberation Sans, sans-serif" font-weight="bold" font-size="6.2" text-anchor="end" fill="#000" stroke="#000" stroke-width="0.25">IL-10</text>
<text transform="translate(224.76,164.90) rotate(-45)" x="0" y="0" font-family="Liberation Sans, sans-serif" font-weight="bold" font-size="6.2" text-anchor="end" fill="#000" stroke="#000" stroke-width="0.25">IL-13</text>
<text transform="translate(235.39,164.90) rotate(-45)" x="0" y="0" font-family="Liberation Sans, sans-serif" font-weight="bold" font-size="6.2" text-anchor="end" fill="#000" stroke="#000" stroke-width="0.25">IL-12 p70</text>
<text transform="translate(246.02,164.90) rotate(-45)" x="0" y="0" font-family="Liberation Sans, sans-serif" font-weight="bold" font-size="6.2" text-anchor="end" fill="#000" stroke="#000" stroke-width="0.25">IL-16</text>
<text transform="translate(256.65,164.90) rotate(-45)" x="0" y="0" font-family="Liberation Sans, sans-serif" font-weight="bold" font-size="6.2" text-anchor="end" fill="#000" stroke="#000" stroke-width="0.25">IL-17</text>
<text transform="translate(267.28,164.90) rotate(-45)" x="0" y="0" font-family="Liberation Sans, sans-serif" font-weight="bold" font-size="6.2" text-anchor="end" fill="#000" stroke="#000" stroke-width="0.25">IL-23</text>
<text transform="translate(277.91,164.90) rotate(-45)" x="0" y="0" font-family="Liberation Sans, sans-serif" font-weight="bold" font-size="6.2" text-anchor="end" fill="#000" stroke="#000" stroke-width="0.25">IL-27</text>
<text transform="translate(288.54,164.90) rotate(-45)" x="0" y="0" font-family="Liberation Sans, sans-serif" font-weight="bold" font-size="6.2" text-anchor="end" fill="#000" stroke="#000" stroke-width="0.25">IP-10</text>
<text transform="translate(299.18,164.90) rotate(-45)" x="0" y="0" font-family="Liberation Sans, sans-serif" font-weight="bold" font-size="6.2" text-anchor="end" fill="#000" stroke="#000" stroke-width="0.25">I-TAC</text>
<text transform="translate(309.81,164.90) rotate(-45)" x="0" y="0" font-family="Liberation Sans, sans-serif" font-weight="bold" font-size="6.2" text-anchor="end" fill="#000" stroke="#000" stroke-width="0.25">KC</text>
<text transform="translate(320.44,164.90) rotate(-45)" x="0" y="0" font-family="Liberation Sans, sans-serif" font-weight="bold" font-size="6.2" text-anchor="end" fill="#000" stroke="#000" stroke-width="0.25">M-CSF</text>
<text transform="translate(331.07,164.90) rotate(-45)" x="0" y="0" font-family="Liberation Sans, sans-serif" font-weight="bold" font-size="6.2" text-anchor="end" fill="#000" stroke="#000" stroke-width="0.25">JE</text>
<text transform="translate(341.70,164.90) rotate(-45)" x="0" y="0" font-family="Liberation Sans, sans-serif" font-weight="bold" font-size="6.2" text-anchor="end" fill="#000" stroke="#000" stroke-width="0.25">MCP-5</text>
<text transform="translate(352.33,164.90) rotate(-45)" x="0" y="0" font-family="Liberation Sans, sans-serif" font-weight="bold" font-size="6.2" text-anchor="end" fill="#000" stroke="#000" stroke-width="0.25">MIG</text>
<text transform="translate(362.96,164.90) rotate(-45)" x="0" y="0" font-family="Liberation Sans, sans-serif" font-weight="bold" font-size="6.2" text-anchor="end" fill="#000" stroke="#000" stroke-width="0.25">MIP-1α</text>
<text transform="translate(373.59,164.90) rotate(-45)" x="0" y="0" font-family="Liberation Sans, sans-serif" font-weight="bold" font-size="6.2" text-anchor="end" fill="#000" stroke="#000" stroke-width="0.25">MIP-1β</text>
<text transform="translate(384.22,164.90) rotate(-45)" x="0" y="0" font-family="Liberation Sans, sans-serif" font-weight="bold" font-size="6.2" text-anchor="end" fill="#000" stroke="#000" stroke-width="0.25">MIP-2</text>
<text transform="translate(394.85,164.90) rotate(-45)" x="0" y="0" font-family="Liberation Sans, sans-serif" font-weight="bold" font-size="6.2" text-anchor="end" fill="#000" stroke="#000" stroke-width="0.25">RANTES</text>
<text transform="translate(405.49,164.90) rotate(-45)" x="0" y="0" font-family="Liberation Sans, sans-serif" font-weight="bold" font-size="6.2" text-anchor="end" fill="#000" stroke="#000" stroke-width="0.25">SDF-1</text>
<text transform="translate(416.12,164.90) rotate(-45)" x="0" y="0" font-family="Liberation Sans, sans-serif" font-weight="bold" font-size="6.2" text-anchor="end" fill="#000" stroke="#000" stroke-width="0.25">TARC</text>
<text transform="translate(426.75,164.90) rotate(-45)" x="0" y="0" font-family="Liberation Sans, sans-serif" font-weight="bold" font-size="6.2" text-anchor="end" fill="#000" stroke="#000" stroke-width="0.25">TIMP-1</text>
<text transform="translate(437.38,164.90) rotate(-45)" x="0" y="0" font-family="Liberation Sans, sans-serif" font-weight="bold" font-size="6.2" text-anchor="end" fill="#000" stroke="#000" stroke-width="0.25">TNF-α</text>
<text transform="translate(448.01,164.90) rotate(-45)" x="0" y="0" font-family="Liberation Sans, sans-serif" font-weight="bold" font-size="6.2" text-anchor="end" fill="#000" stroke="#000" stroke-width="0.25">TREM-1</text>
<text x="0.6" y="200" font-family="Liberation Sans, sans-serif" font-weight="bold" font-size="9.4" fill="#000">B</text>
<text x="21" y="200" font-family="Liberation Sans, sans-serif" font-weight="bold" font-size="9.15" fill="#000">Serum adiponectin level</text>
<text x="4.8" y="216.6" font-family="Liberation Sans, sans-serif" font-weight="bold" font-size="7.6" fill="#000">(μg/ml)</text>
<line x1="31.25" y1="216" x2="31.25" y2="312.5" stroke="#999" stroke-width="1"/>
<line x1="29.3" y1="224.4" x2="31.25" y2="224.4" stroke="#999" stroke-width="0.8"/>
<text x="26.8" y="229.00" font-family="Liberation Sans, sans-serif" font-weight="bold" font-size="7.6" text-anchor="end" fill="#000">20</text>
<line x1="29.3" y1="268.6" x2="31.25" y2="268.6" stroke="#999" stroke-width="0.8"/>
<text x="26.8" y="273.20" font-family="Liberation Sans, sans-serif" font-weight="bold" font-size="7.6" text-anchor="end" fill="#000">10</text>
<line x1="29.3" y1="312.5" x2="31.25" y2="312.5" stroke="#999" stroke-width="0.8"/>
<text x="26.8" y="317.10" font-family="Liberation Sans, sans-serif" font-weight="bold" font-size="7.6" text-anchor="end" fill="#000">0</text>
<defs><pattern id="dots" x="36" y="283" width="6.06" height="2.97" patternUnits="userSpaceOnUse"><rect x="0" y="0" width="1" height="1" fill="#444"/><rect x="3.03" y="1.4" width="1" height="1.1" fill="#444"/></pattern></defs>
<rect x="33.25" y="229.9" width="28.25" height="82.6" fill="#fff" stroke="#222" stroke-width="1"/>
<rect x="34" y="230.5" width="26.5" height="81.5" fill="url(#dots)"/>
<rect x="65.5" y="246.1" width="27.1" height="66.4" fill="#d9d9d9" stroke="#222" stroke-width="1"/>
<rect x="96.5" y="262.5" width="28.5" height="50" fill="#000"/>
<line x1="47.1" y1="222.5" x2="47.1" y2="229.4" stroke="#222" stroke-width="1"/>
<line x1="46.1" y1="222.5" x2="48.1" y2="222.5" stroke="#222" stroke-width="1"/>
<line x1="78.75" y1="240.6" x2="78.75" y2="245.6" stroke="#222" stroke-width="1"/>
<line x1="77.75" y1="240.6" x2="79.75" y2="240.6" stroke="#222" stroke-width="1"/>
<line x1="110.25" y1="259.4" x2="110.25" y2="262.5" stroke="#222" stroke-width="1"/>
<line x1="109.25" y1="259.4" x2="111.25" y2="259.4" stroke="#222" stroke-width="1"/>
<line x1="29.4" y1="312.5" x2="125" y2="312.5" stroke="#222" stroke-width="1"/>
<polyline points="46.5,218.8 46.5,216.9 112.25,216.9 112.25,218.6" fill="none" stroke="#222" stroke-width="0.9"/>
<line x1="78.75" y1="216.9" x2="78.75" y2="218.3" stroke="#222" stroke-width="0.9"/>
<text x="49" y="214.5" font-family="Liberation Sans, sans-serif" font-weight="bold" font-size="7.4" fill="#000">P=0.051</text>
<text x="82.75" y="214.5" font-family="Liberation Sans, sans-serif" font-weight="bold" font-size="7.4" fill="#000">P=0.004</text>
<text x="47" y="323.5" font-family="Liberation Sans, sans-serif" font-weight="bold" font-size="8.7" text-anchor="middle" fill="#000">control</text>
<text x="80" y="323.4" font-family="Liberation Sans, sans-serif" font-weight="bold" font-size="8.7" text-anchor="middle" fill="#000">WT</text>
<text x="111.2" y="323.4" font-family="Liberation Sans, sans-serif" font-weight="bold" font-size="8.7" text-anchor="middle" fill="#000">TG</text>
<line x1="68.75" y1="327.4" x2="122.7" y2="327.4" stroke="#000" stroke-width="1.8"/>
<text x="95.7" y="335.6" font-family="Liberation Sans, sans-serif" font-weight="bold" font-size="8.7" text-anchor="middle" fill="#000">UUO</text>
</svg></body></html>
